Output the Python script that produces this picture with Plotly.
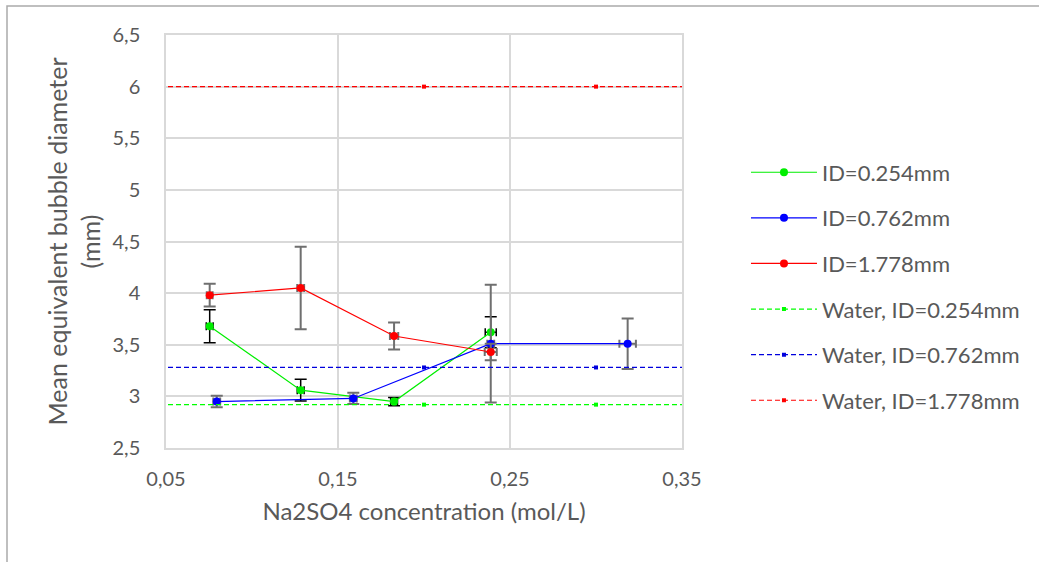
import plotly.graph_objects as go

# Data
green_x = [0.0754, 0.1283, 0.1826, 0.2388]
green_y = [3.68, 3.06, 2.95, 3.62]
green_ey = [0.16, 0.105, 0.04, 0.15]
green_ex = [0.002, 0.002, 0.002, 0.0032]

blue_x = [0.0795, 0.1589, 0.2388, 0.3184]
blue_y = [2.95, 2.98, 3.51, 3.51]
blue_ey = [0.055, 0.055, 0.57, 0.245]
blue_ex = [0.002, 0.002, 0.002, 0.0048]

red_x = [0.0754, 0.1283, 0.1826, 0.2388]
red_y = [3.98, 4.05, 3.585, 3.43]
red_ey = [0.11, 0.40, 0.13, 0.08]
red_ex = [0.0017, 0.002, 0.0024, 0.0035]

water_x = [0.0, 0.2, 0.3, 0.4]
water_green = [2.92, 2.92, 2.92, 2.92]
water_blue = [3.28, 3.28, 3.28, 3.28]
water_red = [6.0, 6.0, 6.0, 6.0]

names = ["ID=0.254mm", "ID=0.762mm", "ID=1.778mm",
         "Water, ID=0.254mm", "Water, ID=0.762mm", "Water, ID=1.778mm"]

FONT = "Lato"
TXT = "#595959"
GRID = "#d9d9d9"

fig = go.Figure()

def series(x, y, ey, ex, color, ecolor, ewidth, name, grp):
    fig.add_trace(go.Scatter(
        x=x, y=y, mode="lines+markers", name=name, legendgroup=grp,
        line=dict(color=color, width=1.2),
        marker=dict(color=color, size=8),
        error_y=dict(type="data", array=ey, color=ecolor, thickness=ewidth, width=6),
        error_x=dict(type="data", array=ex, color=ecolor, thickness=ewidth, width=4),
    ))

series(green_x, green_y, green_ey, green_ex, "#00ee00", "#000000", 1.5, names[0], "a")
series(blue_x, blue_y, blue_ey, blue_ex, "#0000ff", "#6f6f6f", 2, names[1], "b")
series(red_x, red_y, red_ey, red_ex, "#ff0000", "#6f6f6f", 2, names[2], "c")

for yv, color, name, grp in [(water_green, "#00ff00", names[3], "d"),
                             (water_blue, "#0000dd", names[4], "e"),
                             (water_red, "#ff0000", names[5], "f")]:
    fig.add_trace(go.Scatter(
        x=water_x, y=yv, mode="lines+markers", name=name, legendgroup=grp,
        line=dict(color=color, width=1.2, dash="5px,3px"),
        marker=dict(color=color, size=4, symbol="square"),
    ))

fig.update_layout(
    width=1039, height=562,
    margin=dict(l=166, r=357, t=35, b=114),
    paper_bgcolor="white", plot_bgcolor="white",
    separators=", ",
    font=dict(family=FONT, color=TXT, size=20),
    showlegend=True,
    legend=dict(
        x=1.124, y=0.718, xanchor="left", yanchor="top",
        font=dict(family=FONT, size=22, color=TXT),
        traceorder="grouped", tracegroupgap=14,
        itemwidth=66, bgcolor="rgba(0,0,0,0)",
    ),
    xaxis=dict(
        range=[0.05, 0.35], tickvals=[0.05, 0.15, 0.25, 0.35],
        ticktext=["0,05", "0,15", "0,25", "0,35"],
        showgrid=True, gridcolor=GRID, gridwidth=1.5,
        showline=True, linecolor=GRID, linewidth=1.5, mirror=True,
        zeroline=False, ticks="", ticklabelstandoff=12,
        tickfont=dict(size=20, color=TXT),
        title=dict(text="Na2SO4 concentration (mol/L)", font=dict(size=24, color=TXT), standoff=14),
    ),
    yaxis=dict(
        range=[2.5, 6.5], dtick=0.5, tickformat=".1~f",
        showgrid=True, gridcolor=GRID, gridwidth=1.5,
        showline=True, linecolor=GRID, linewidth=1.5, mirror=True,
        zeroline=False, ticks="", ticklabelstandoff=20,
        tickfont=dict(size=20, color=TXT),
        title=dict(text="Mean equivalent bubble diameter<br>(mm)", font=dict(size=25, color=TXT), standoff=5),
    ),
    shapes=[dict(type="rect", xref="paper", yref="paper",
                 x0=(7 - 166) / 516, x1=2.5, y0=-1.0, y1=(448 - 6) / 413,
                 line=dict(color="#ababab", width=1.5), fillcolor="rgba(0,0,0,0)", layer="below")],
)

fig.write_html("out.html")
